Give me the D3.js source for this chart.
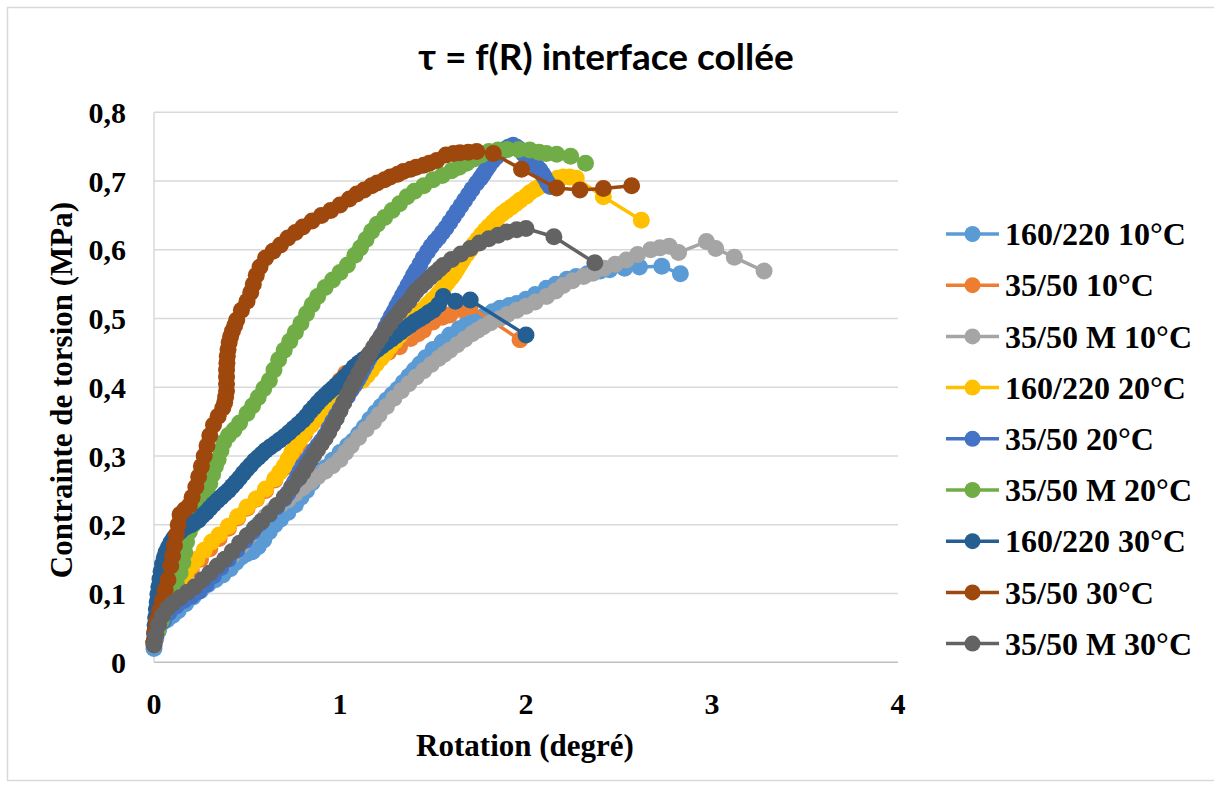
<!DOCTYPE html>
<html>
<head>
<meta charset="utf-8">
<script src="https://cdn.jsdelivr.net/npm/d3@7"></script>
<style>
  body { margin: 0; background: #ffffff; }
  svg { display: block; }
</style>
</head>
<body>
<div id="chart"></div>
<script>
// series names, same order as the legend
const seriesNames = ["160/220 10°C", "35/50 10°C", "35/50 M 10°C", "160/220 20°C", "35/50 20°C",
    "35/50 M 20°C", "160/220 30°C", "35/50 30°C", "35/50 M 30°C"];
const seriesColors = ["#5B9BD5", "#ED7D31", "#A5A5A5", "#FFC000", "#4472C4", "#70AD47", "#255E91", "#9E480E", "#636363"];

const xTicks = [0, 1, 2, 3, 4];
const yTicks = [0, 0.1, 0.2, 0.3, 0.4, 0.5, 0.6, 0.7, 0.8];

// [rotation (degré), contrainte (MPa)]
const s160_220_10 = [[0,0.02],[0.01,0.035],[0.025,0.048],[0.045,0.058],[0.07,0.062],[0.1,0.068],[0.13,0.075],[0.17,0.085],
    [0.21,0.095],[0.25,0.104],[0.29,0.113],[0.33,0.12],[0.37,0.127],[0.41,0.136],[0.44,0.145],[0.47,0.153],[0.5,0.158],
    [0.53,0.161],[0.56,0.168],[0.59,0.178],[0.62,0.19],[0.65,0.2],[0.68,0.208],[0.72,0.218],[0.76,0.229],[0.79,0.24],
    [0.82,0.25],[0.85,0.261],[0.88,0.272],[0.92,0.283],[0.96,0.294],[1.0,0.305],[1.04,0.315],[1.07,0.322],[1.1,0.332],
    [1.13,0.342],[1.16,0.353],[1.19,0.363],[1.22,0.372],[1.25,0.381],[1.28,0.389],[1.31,0.397],[1.34,0.407],[1.37,0.416],
    [1.4,0.425],[1.43,0.434],[1.46,0.443],[1.5,0.455],[1.55,0.466],[1.59,0.476],[1.64,0.485],[1.68,0.492],[1.72,0.498],
    [1.77,0.503],[1.82,0.51],[1.86,0.515],[1.91,0.519],[1.95,0.522],[2.0,0.528],[2.05,0.535],[2.11,0.544],[2.16,0.55],
    [2.22,0.557],[2.27,0.561],[2.33,0.565],[2.4,0.569],[2.45,0.571],[2.53,0.573],[2.61,0.575],[2.73,0.576],[2.83,0.565]];
const s35_50_10 = [[0,0.03],[0.02,0.05],[0.05,0.07],[0.08,0.086],[0.12,0.104],[0.16,0.12],[0.2,0.135],[0.25,0.15],
    [0.3,0.165],[0.35,0.18],[0.4,0.195],[0.45,0.21],[0.5,0.224],[0.55,0.237],[0.6,0.25],[0.65,0.265],[0.7,0.283],
    [0.75,0.303],[0.78,0.317],[0.81,0.332],[0.84,0.346],[0.87,0.358],[0.9,0.37],[0.93,0.382],[0.96,0.395],[1.0,0.41],
    [1.03,0.42],[1.08,0.428],[1.14,0.436],[1.2,0.444],[1.26,0.451],[1.32,0.459],[1.38,0.471],[1.42,0.478],[1.448,0.483],
    [1.5,0.495],[1.55,0.502],[1.59,0.505],[1.65,0.513],[1.7,0.517],[1.968,0.469]];
const s35_50M_10 = [[0,0.025],[0.03,0.055],[0.07,0.075],[0.12,0.088],[0.17,0.098],[0.22,0.108],[0.27,0.118],[0.32,0.13],
    [0.37,0.142],[0.42,0.155],[0.445,0.162],[0.47,0.17],[0.495,0.178],[0.52,0.186],[0.54,0.193],[0.56,0.2],[0.58,0.206],
    [0.6,0.212],[0.62,0.217],[0.64,0.222],[0.68,0.229],[0.72,0.236],[0.76,0.245],[0.8,0.254],[0.84,0.262],[0.88,0.27],
    [0.92,0.278],[0.96,0.286],[1.0,0.295],[1.03,0.305],[1.06,0.315],[1.1,0.327],[1.14,0.339],[1.18,0.35],[1.21,0.36],
    [1.25,0.372],[1.29,0.384],[1.33,0.395],[1.37,0.405],[1.41,0.415],[1.45,0.424],[1.49,0.433],[1.53,0.442],[1.56,0.448],
    [1.59,0.454],[1.63,0.462],[1.67,0.47],[1.71,0.478],[1.74,0.483],[1.77,0.488],[1.81,0.494],[1.86,0.5],[1.9,0.506],
    [1.95,0.512],[2.0,0.518],[2.05,0.524],[2.11,0.532],[2.16,0.54],[2.2,0.548],[2.25,0.555],[2.31,0.561],[2.36,0.566],
    [2.42,0.573],[2.48,0.579],[2.54,0.585],[2.6,0.593],[2.67,0.6],[2.72,0.603],[2.77,0.605],[2.82,0.596],[2.97,0.612],
    [3.02,0.602],[3.12,0.589],[3.28,0.569]];
const s160_220_20 = [[0,0.03],[0.02,0.05],[0.05,0.07],[0.08,0.085],[0.11,0.1],[0.14,0.115],[0.17,0.128],[0.2,0.14],[0.23,0.15],
    [0.27,0.163],[0.31,0.175],[0.35,0.185],[0.4,0.198],[0.45,0.212],[0.5,0.226],[0.55,0.238],[0.6,0.252],[0.65,0.267],
    [0.675,0.276],[0.7,0.285],[0.72,0.295],[0.74,0.305],[0.76,0.314],[0.78,0.322],[0.8,0.33],[0.82,0.338],[0.845,0.345],
    [0.87,0.352],[0.895,0.358],[0.92,0.365],[0.945,0.372],[0.97,0.378],[1.0,0.385],[1.02,0.39],[1.07,0.4],[1.12,0.41],
    [1.145,0.417],[1.17,0.425],[1.195,0.434],[1.22,0.442],[1.245,0.45],[1.27,0.459],[1.295,0.467],[1.32,0.475],
    [1.345,0.483],[1.37,0.49],[1.395,0.498],[1.42,0.505],[1.445,0.513],[1.47,0.52],[1.495,0.527],[1.52,0.533],[1.54,0.54],
    [1.56,0.546],[1.58,0.553],[1.6,0.56],[1.615,0.566],[1.63,0.572],[1.645,0.579],[1.66,0.585],[1.68,0.593],[1.7,0.6],
    [1.72,0.608],[1.74,0.615],[1.76,0.622],[1.78,0.628],[1.8,0.634],[1.824,0.64],[1.845,0.646],[1.87,0.652],[1.895,0.657],
    [1.92,0.662],[1.945,0.667],[1.968,0.672],[2.0,0.678],[2.02,0.683],[2.05,0.688],[2.075,0.692],[2.11,0.697],[2.14,0.7],
    [2.17,0.704],[2.2,0.706],[2.235,0.706],[2.27,0.704],[2.416,0.677],[2.62,0.643]];
const s35_50_20 = [[0,0.03],[0.02,0.045],[0.05,0.06],[0.08,0.072],[0.12,0.082],[0.16,0.09],[0.2,0.096],[0.24,0.103],
    [0.28,0.113],[0.32,0.126],[0.36,0.138],[0.4,0.15],[0.445,0.163],[0.49,0.177],[0.53,0.19],[0.57,0.202],[0.62,0.215],
    [0.66,0.226],[0.7,0.238],[0.72,0.246],[0.74,0.255],[0.755,0.262],[0.77,0.27],[0.785,0.278],[0.8,0.285],[0.82,0.292],
    [0.84,0.3],[0.86,0.308],[0.88,0.315],[0.9,0.322],[0.92,0.33],[0.94,0.34],[0.96,0.35],[0.98,0.359],[1.0,0.368],
    [1.02,0.378],[1.04,0.387],[1.06,0.396],[1.08,0.404],[1.095,0.411],[1.11,0.418],[1.125,0.426],[1.14,0.433],
    [1.155,0.441],[1.17,0.448],[1.185,0.456],[1.2,0.463],[1.215,0.471],[1.233,0.479],[1.245,0.487],[1.26,0.495],
    [1.275,0.503],[1.29,0.51],[1.305,0.518],[1.32,0.525],[1.335,0.533],[1.35,0.54],[1.365,0.548],[1.38,0.555],
    [1.395,0.563],[1.41,0.57],[1.43,0.579],[1.448,0.588],[1.47,0.597],[1.49,0.605],[1.51,0.612],[1.53,0.618],[1.55,0.625],
    [1.57,0.632],[1.59,0.64],[1.61,0.648],[1.63,0.656],[1.65,0.664],[1.67,0.672],[1.69,0.68],[1.71,0.688],[1.735,0.697],
    [1.755,0.704],[1.77,0.71],[1.785,0.716],[1.8,0.722],[1.82,0.729],[1.84,0.735],[1.86,0.741],[1.88,0.745],[1.905,0.749],
    [1.93,0.752],[1.95,0.749],[1.97,0.745],[1.985,0.74],[2.0,0.735],[2.02,0.73],[2.04,0.725],[2.06,0.72],[2.075,0.716],
    [2.09,0.71],[2.1,0.705],[2.115,0.698],[2.13,0.692]];
const s35_50M_20 = [[0,0.03],[0.02,0.045],[0.04,0.06],[0.06,0.075],[0.08,0.088],[0.1,0.1],[0.12,0.115],[0.14,0.13],
    [0.155,0.145],[0.165,0.16],[0.175,0.175],[0.19,0.19],[0.21,0.2],[0.23,0.21],[0.25,0.222],[0.27,0.235],[0.285,0.248],
    [0.3,0.26],[0.315,0.273],[0.33,0.285],[0.345,0.295],[0.36,0.308],[0.375,0.32],[0.4,0.33],[0.43,0.338],[0.46,0.348],
    [0.5,0.362],[0.53,0.373],[0.56,0.385],[0.59,0.398],[0.62,0.41],[0.645,0.425],[0.67,0.44],[0.7,0.454],[0.73,0.467],
    [0.76,0.48],[0.79,0.493],[0.82,0.507],[0.85,0.52],[0.88,0.532],[0.92,0.545],[0.96,0.556],[1.0,0.567],[1.04,0.578],
    [1.08,0.592],[1.11,0.603],[1.14,0.615],[1.17,0.627],[1.2,0.637],[1.24,0.647],[1.28,0.657],[1.32,0.667],[1.36,0.677],
    [1.4,0.685],[1.45,0.693],[1.5,0.702],[1.55,0.708],[1.6,0.715],[1.64,0.72],[1.68,0.726],[1.72,0.732],[1.76,0.738],
    [1.8,0.743],[1.85,0.745],[1.9,0.746],[1.96,0.746],[2.02,0.745],[2.07,0.742],[2.11,0.74],[2.165,0.739],[2.24,0.736],
    [2.32,0.726]];
const s160_220_30 = [[0,0.03],[0.003,0.042],[0.006,0.054],[0.009,0.065],[0.013,0.077],[0.017,0.088],[0.021,0.099],
    [0.026,0.11],[0.032,0.121],[0.038,0.132],[0.046,0.143],[0.055,0.152],[0.065,0.16],[0.077,0.167],[0.09,0.174],
    [0.105,0.18],[0.12,0.185],[0.14,0.19],[0.16,0.195],[0.18,0.198],[0.2,0.2],[0.22,0.204],[0.24,0.207],[0.26,0.213],
    [0.28,0.218],[0.3,0.224],[0.32,0.23],[0.34,0.235],[0.36,0.24],[0.38,0.245],[0.4,0.25],[0.42,0.256],[0.44,0.262],
    [0.46,0.268],[0.48,0.275],[0.5,0.281],[0.52,0.287],[0.54,0.293],[0.56,0.298],[0.58,0.303],[0.6,0.308],[0.625,0.313],
    [0.65,0.318],[0.675,0.323],[0.7,0.328],[0.725,0.334],[0.75,0.34],[0.775,0.346],[0.8,0.352],[0.82,0.358],[0.84,0.365],
    [0.86,0.371],[0.88,0.377],[0.9,0.383],[0.92,0.388],[0.94,0.393],[0.96,0.398],[0.98,0.403],[1.0,0.408],[1.025,0.415],
    [1.05,0.422],[1.075,0.429],[1.1,0.435],[1.125,0.44],[1.15,0.445],[1.175,0.45],[1.2,0.455],[1.225,0.46],[1.25,0.465],
    [1.275,0.47],[1.3,0.475],[1.325,0.48],[1.35,0.485],[1.375,0.49],[1.4,0.495],[1.425,0.499],[1.45,0.503],[1.475,0.508],
    [1.5,0.512],[1.53,0.52],[1.555,0.532],[1.62,0.525],[1.7,0.527],[2.0,0.476]];
const s35_50_30 = [[0,0.03],[0.005,0.045],[0.015,0.06],[0.03,0.075],[0.045,0.09],[0.06,0.105],[0.075,0.12],[0.09,0.14],
    [0.1,0.155],[0.11,0.17],[0.12,0.185],[0.13,0.2],[0.14,0.215],[0.165,0.222],[0.19,0.228],[0.205,0.24],[0.225,0.255],
    [0.24,0.27],[0.255,0.285],[0.27,0.3],[0.285,0.315],[0.3,0.33],[0.32,0.345],[0.345,0.358],[0.37,0.37],[0.38,0.378],
    [0.385,0.386],[0.39,0.395],[0.39,0.405],[0.39,0.415],[0.39,0.425],[0.392,0.435],[0.394,0.445],[0.398,0.455],
    [0.404,0.465],[0.412,0.474],[0.422,0.482],[0.434,0.49],[0.445,0.498],[0.47,0.512],[0.5,0.525],[0.52,0.538],
    [0.534,0.55],[0.55,0.563],[0.57,0.575],[0.6,0.588],[0.64,0.598],[0.68,0.607],[0.72,0.617],[0.76,0.625],[0.8,0.633],
    [0.85,0.642],[0.9,0.65],[0.95,0.657],[1.0,0.665],[1.05,0.674],[1.09,0.681],[1.13,0.687],[1.17,0.693],[1.2,0.697],
    [1.24,0.702],[1.27,0.706],[1.31,0.71],[1.34,0.714],[1.38,0.717],[1.41,0.72],[1.45,0.723],[1.48,0.726],[1.52,0.73],
    [1.57,0.738],[1.61,0.74],[1.645,0.741],[1.69,0.742],[1.735,0.743],[1.824,0.74],[1.976,0.717],[2.165,0.69],
    [2.29,0.687],[2.416,0.689],[2.568,0.693]];
const s35_50M_30 = [[0,0.025],[0.01,0.04],[0.025,0.055],[0.045,0.068],[0.07,0.078],[0.1,0.086],[0.14,0.094],[0.18,0.102],
    [0.22,0.11],[0.26,0.12],[0.3,0.13],[0.34,0.14],[0.38,0.15],[0.42,0.161],[0.46,0.173],[0.5,0.184],[0.54,0.195],
    [0.58,0.205],[0.62,0.216],[0.66,0.228],[0.7,0.24],[0.74,0.254],[0.78,0.268],[0.8,0.276],[0.82,0.285],[0.84,0.293],
    [0.86,0.302],[0.88,0.31],[0.9,0.318],[0.92,0.326],[0.94,0.335],[0.96,0.345],[0.98,0.355],[1.0,0.366],[1.02,0.378],
    [1.04,0.389],[1.06,0.4],[1.08,0.41],[1.1,0.42],[1.12,0.43],[1.14,0.44],[1.16,0.449],[1.18,0.458],[1.2,0.466],
    [1.22,0.474],[1.245,0.484],[1.27,0.493],[1.295,0.502],[1.32,0.51],[1.345,0.518],[1.37,0.525],[1.39,0.533],[1.41,0.54],
    [1.435,0.547],[1.46,0.553],[1.485,0.56],[1.51,0.566],[1.535,0.572],[1.555,0.577],[1.6,0.586],[1.65,0.594],[1.7,0.602],
    [1.75,0.61],[1.8,0.616],[1.85,0.621],[1.896,0.626],[1.95,0.629],[2.0,0.631],[2.15,0.619],[2.37,0.581]];

const seriesValues = [s160_220_10, s35_50_10, s35_50M_10, s160_220_20, s35_50_20, s35_50M_20, s160_220_30, s35_50_30, s35_50M_30];

const width = 1214, height = 789;
const serif = "'Liberation Serif', 'Times New Roman', serif";

const svg = d3.select("#chart").append("svg")
    .attr("width", width)
    .attr("height", height);

svg.append("rect").attr("width", width).attr("height", height).attr("fill", "#ffffff");

// chart area border (runs off the right edge like the screenshot)
svg.append("rect")
    .attr("x", 7.5).attr("y", 7.5)
    .attr("width", 1230).attr("height", 773)
    .attr("fill", "none")
    .attr("stroke", "#d9d9d9")
    .attr("stroke-width", 1.5);

const x = d3.scaleLinear().domain([0, 4]).range([154, 898]);
const y = d3.scaleLinear().domain([0, 0.8]).range([662.3, 112.3]);

// grid
svg.append("g").selectAll("line")
    .data(yTicks.filter(d => d > 0))
    .join("line")
    .attr("x1", x(0)).attr("x2", x(4))
    .attr("y1", d => y(d)).attr("y2", d => y(d))
    .attr("stroke", "#d9d9d9")
    .attr("stroke-width", 1.5);

// axes lines
svg.append("line")
    .attr("x1", x(0)).attr("x2", x(4))
    .attr("y1", y(0)).attr("y2", y(0))
    .attr("stroke", "#bfbfbf").attr("stroke-width", 1.5);
svg.append("line")
    .attr("x1", x(0)).attr("x2", x(0))
    .attr("y1", y(0)).attr("y2", y(0.8))
    .attr("stroke", "#d9d9d9").attr("stroke-width", 1.5);

// tick labels
svg.append("g").selectAll("text")
    .data(yTicks)
    .join("text")
    .attr("x", 126)
    .attr("y", d => y(d))
    .attr("dy", "0.35em")
    .attr("text-anchor", "end")
    .style("font-family", serif)
    .style("font-weight", "bold")
    .style("font-size", "30px")
    .text(d => d3.format(".1f")(d).replace(".", ",").replace(/^0,0$/, "0"));

svg.append("g").selectAll("text")
    .data(xTicks)
    .join("text")
    .attr("x", d => x(d))
    .attr("y", 714)
    .attr("text-anchor", "middle")
    .style("font-family", serif)
    .style("font-weight", "bold")
    .style("font-size", "30px")
    .text(d => d);

// titles
svg.append("text")
    .attr("x", 606).attr("y", 70)
    .attr("text-anchor", "middle")
    .style("font-family", "Lato, 'Open Sans', sans-serif")
    .style("font-weight", "bold")
    .style("font-size", "37px")
    .attr("fill", "#000000")
    .text("τ = f(R) interface collée");

svg.append("text")
    .attr("x", 525).attr("y", 756)
    .attr("text-anchor", "middle")
    .style("font-family", serif)
    .style("font-weight", "bold")
    .style("font-size", "31px")
    .text("Rotation (degré)");

svg.append("text")
    .attr("transform", "translate(72,390) rotate(-90)")
    .attr("text-anchor", "middle")
    .style("font-family", serif)
    .style("font-weight", "bold")
    .style("font-size", "31px")
    .text("Contrainte de torsion (MPa)");

// series: line plus a round marker at every point
const line = d3.line().x(d => x(d[0])).y(d => y(d[1]));

seriesValues.forEach((vals, i) => {
    const g = svg.append("g").attr("class", "series");
    g.append("path")
        .attr("d", line(vals))
        .attr("fill", "none")
        .attr("stroke", seriesColors[i])
        .attr("stroke-width", 3.5)
        .attr("stroke-linejoin", "round");
    g.selectAll("circle")
        .data(vals)
        .join("circle")
        .attr("cx", d => x(d[0]))
        .attr("cy", d => y(d[1]))
        .attr("r", 8.5)
        .attr("fill", seriesColors[i]);
});

// legend
const legend = svg.append("g").selectAll("g")
    .data(seriesNames)
    .join("g")
    .attr("transform", (d, i) => `translate(0,${234 + i * 51.2})`);

legend.append("line")
    .attr("x1", 946).attr("x2", 999)
    .attr("stroke", (d, i) => seriesColors[i])
    .attr("stroke-width", 3.5);
legend.append("circle")
    .attr("cx", 972.5)
    .attr("r", 8)
    .attr("fill", (d, i) => seriesColors[i]);
legend.append("text")
    .attr("x", 1005)
    .attr("dy", "0.35em")
    .style("font-family", serif)
    .style("font-weight", "bold")
    .style("font-size", "32px")
    .text(d => d);
</script>
</body>
</html>
